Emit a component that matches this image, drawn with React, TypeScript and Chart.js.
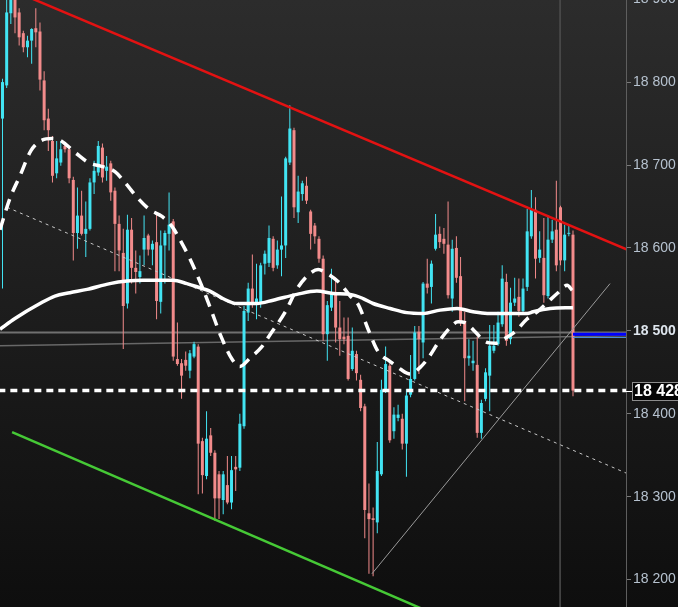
import { useEffect, useRef } from 'react';
import { Chart, registerables } from 'chart.js';

Chart.register(...registerables);

// candles, one per session
const opens = [
  18756, 18796, 18883, 18902, 18884, 18859, 18842, 18850, 18865, 18861,
  18802, 18756, 18729, 18690, 18703, 18723, 18719, 18682, 18618, 18639,
  18617, 18623, 18679, 18691, 18721, 18693, 18702, 18669, 18629, 18594,
  18533, 18622, 18576, 18565, 18598, 18615, 18598, 18607, 18535, 18603,
  18617, 18632, 18466, 18461, 18465, 18452, 18469, 18481, 18367, 18325,
  18374, 18353, 18327, 18296, 18314, 18293, 18336, 18335, 18385, 18522,
  18551, 18533, 18534, 18581, 18582, 18611, 18579, 18598, 18603, 18703,
  18742, 18643, 18665, 18675, 18644, 18627, 18611, 18587, 18496, 18528,
  18547, 18504, 18493, 18494, 18454, 18472, 18441, 18409, 18280, 18274,
  18269, 18327, 18428, 18458, 18379, 18395, 18394, 18364, 18423, 18442,
  18499, 18486, 18557, 18553, 18599, 18617, 18611, 18604, 18539, 18600,
  18566, 18512, 18467, 18461, 18459, 18377, 18418, 18446, 18476, 18484,
  18508, 18559, 18490, 18534, 18541, 18524, 18553, 18614, 18646, 18588,
  18588, 18542, 18610, 18622, 18649, 18585, 18617, 18616,
];
const highs = [
  18804, 18910, 18912, 18910, 18889, 18862, 18856, 18865, 18889, 18872,
  18813, 18768, 18735, 18729, 18729, 18727, 18723, 18686, 18673, 18669,
  18656, 18684, 18705, 18729, 18726, 18711, 18705, 18673, 18639, 18623,
  18640, 18636, 18597, 18591, 18639, 18617, 18609, 18643, 18621, 18621,
  18667, 18635, 18510, 18466, 18475, 18477, 18487, 18484, 18371, 18403,
  18383, 18356, 18331, 18331, 18349, 18349, 18349, 18400, 18530, 18558,
  18592, 18581, 18582, 18597, 18627, 18614, 18609, 18662, 18710, 18772,
  18745, 18687, 18681, 18686, 18646, 18630, 18614, 18591, 18536, 18575,
  18564, 18536, 18516, 18516, 18504, 18476, 18447, 18412, 18316, 18287,
  18366, 18441, 18481, 18461, 18408, 18411, 18400, 18430, 18471, 18506,
  18506, 18559, 18587, 18585, 18641, 18626, 18624, 18656, 18610, 18614,
  18589, 18523, 18490, 18488, 18493, 18417, 18455, 18507, 18507, 18523,
  18579, 18569, 18552, 18564, 18563, 18563, 18647, 18670, 18661, 18620,
  18636, 18639, 18634, 18681, 18651, 18628, 18629, 18621,
];
const lows = [
  18551, 18793, 18870, 18859, 18844, 18836, 18830, 18822, 18842, 18790,
  18742, 18717, 18679, 18684, 18699, 18715, 18678, 18585, 18599, 18615,
  18589, 18621, 18665, 18687, 18679, 18681, 18657, 18572, 18572, 18478,
  18527, 18557, 18545, 18557, 18579, 18591, 18579, 18514, 18521, 18557,
  18597, 18464, 18458, 18418, 18452, 18443, 18467, 18303, 18304, 18321,
  18349, 18271, 18273, 18279, 18291, 18285, 18307, 18331, 18382, 18512,
  18528, 18514, 18528, 18568, 18577, 18572, 18575, 18566, 18588, 18700,
  18636, 18630, 18657, 18653, 18598, 18605, 18582, 18488, 18464, 18524,
  18486, 18470, 18484, 18440, 18452, 18440, 18403, 18250, 18207, 18204,
  18256, 18325, 18425, 18365, 18370, 18391, 18357, 18324, 18420, 18440,
  18448, 18467, 18545, 18533, 18597, 18600, 18593, 18539, 18523, 18558,
  18506, 18415, 18458, 18452, 18371, 18370, 18415, 18403, 18473, 18482,
  18505, 18482, 18484, 18530, 18517, 18522, 18548, 18611, 18563, 18582,
  18534, 18539, 18606, 18572, 18579, 18572, 18614, 18421,
];
const closes = [
  18800, 18884, 18902, 18878, 18854, 18842, 18850, 18864, 18860, 18803,
  18754, 18742, 18687, 18708, 18719, 18719, 18684, 18618, 18639, 18617,
  18623, 18679, 18693, 18723, 18685, 18698, 18667, 18629, 18597, 18530,
  18622, 18576, 18571, 18572, 18612, 18598, 18605, 18536, 18603, 18618,
  18628, 18469, 18460, 18446, 18458, 18473, 18484, 18364, 18326, 18370,
  18353, 18298, 18298, 18327, 18293, 18332, 18333, 18388, 18524, 18551,
  18533, 18539, 18579, 18593, 18612, 18576, 18598, 18603, 18708, 18744,
  18649, 18668, 18678, 18657, 18617, 18614, 18587, 18496, 18531, 18545,
  18504, 18490, 18490, 18442, 18476, 18449, 18407, 18284, 18273, 18272,
  18331, 18429, 18460, 18368, 18399, 18399, 18364, 18422, 18442, 18498,
  18490, 18557, 18552, 18581, 18616, 18607, 18605, 18543, 18599, 18564,
  18512, 18467, 18470, 18464, 18377, 18413, 18450, 18482, 18482, 18510,
  18563, 18488, 18534, 18539, 18524, 18551, 18620, 18646, 18587, 18598,
  18543, 18610, 18620, 18579, 18585, 18616, 18618, 18428,
];

const yTicks = [18200, 18300, 18400, 18500, 18600, 18700, 18800, 18900];
const lastPrice = 18428;

// indicator curves, [candle index, price]
const slowMa = [
  [-0.6, 18502], [3, 18515], [9, 18533], [12.6, 18542], [16.2, 18546], [20.3, 18550],
  [25.8, 18557], [29.9, 18560], [33.7, 18561], [37.8, 18561], [40.9, 18561], [44.3, 18557],
  [47.4, 18552], [49.8, 18548], [52.9, 18539], [56.3, 18533], [61.1, 18533], [65, 18537],
  [70.7, 18544], [75.5, 18548], [79.4, 18545], [83.5, 18544], [86.6, 18539], [89, 18533],
  [93.1, 18527], [97.1, 18522], [101, 18521], [105.1, 18525], [109.2, 18527], [113, 18523],
  [116.4, 18521], [120.2, 18521], [126, 18521], [127.4, 18523], [131.5, 18527], [137, 18528],
];
const fastMa = [
  [-0.6, 18622], [1.8, 18660], [4.2, 18687], [6.8, 18717], [9.5, 18730], [11.9, 18732],
  [13.8, 18730], [17.7, 18714], [21, 18702], [23.4, 18699], [27, 18692], [29.4, 18679],
  [32.5, 18660], [35.4, 18646], [38.3, 18638], [40.7, 18626], [42.6, 18610], [45, 18587],
  [47.7, 18556], [50.1, 18525], [52.5, 18493], [55.1, 18466], [57, 18457], [59.4, 18467],
  [62.3, 18481], [64.2, 18495], [67.8, 18522], [70.9, 18552], [73.8, 18569], [75.8, 18574],
  [77.7, 18570], [81.1, 18557], [83.5, 18542], [85.4, 18532], [87.8, 18502], [90.2, 18475],
  [93.1, 18463], [95.5, 18454], [97.9, 18448], [100.3, 18456], [102.2, 18467], [104.8, 18487],
  [107.5, 18504], [109.4, 18511], [111.1, 18510], [113.5, 18499], [115.9, 18487], [118.3, 18485],
  [120.7, 18491], [123.1, 18499], [125.9, 18514], [128.4, 18523], [130.8, 18534], [133.4, 18546],
  [135.6, 18555], [136.8, 18549],
];

// drawn lines
const resistance = [[6, 18903], [150, 18598]];
const support = [[2.3, 18378], [103, 18160]];
const midChannel = [[1.1, 18649], [150, 18328]];
const riseLine = [[88.7, 18207], [145.9, 18557]];
const levelA = [[-1, 18498], [150, 18498]];
const levelB = [[-1, 18482], [150, 18494]];
const blueLevel = [[137, 18496], [150, 18496]];
const blueLevelThin = [[137, 18492], [150, 18492]];
const lastLine = [[-1, lastPrice], [150, lastPrice]];
const cursorLine = [[133.9, 18100], [133.9, 19000]];

const UP = '#42e4f3';
const DOWN = '#f28b8b';
const FONT = "'Liberation Sans', Arial, sans-serif";

const fmt = (v: number) => String(v).replace(/(\d{2})(\d{3})$/, '$1 $2');
const pts = (arr: number[][]) => arr.map(([x, y]) => ({ x, y }));

const line = (data: number[][], color: string, width: number, order: number, extra: any = {}) => ({
  type: 'line' as const,
  data: pts(data),
  borderColor: color,
  borderWidth: width,
  pointRadius: 0,
  fill: false,
  order,
  ...extra,
});

const lastPriceTag = {
  id: 'lastPriceTag',
  afterDraw(chart: any) {
    const { ctx, chartArea } = chart;
    const y = Math.round(chart.scales.y.getPixelForValue(lastPrice));
    const left = chartArea.right;
    ctx.save();
    ctx.strokeStyle = '#ffffff';
    ctx.lineWidth = 1;
    ctx.beginPath();
    ctx.moveTo(left, y + 0.5);
    ctx.lineTo(left + 6, y + 0.5);
    ctx.stroke();
    ctx.fillStyle = '#050505';
    ctx.fillRect(left + 6, y - 9, 70, 19);
    ctx.strokeStyle = '#8c8c8c';
    ctx.strokeRect(left + 6.5, y - 8.5, 70, 18);
    ctx.fillStyle = '#ffffff';
    ctx.font = `bold 16px ${FONT}`;
    ctx.textBaseline = 'middle';
    ctx.fillText(fmt(lastPrice), left + 8, y + 1);
    ctx.restore();
  },
};

export default function App() {
  const canvasRef = useRef<HTMLCanvasElement>(null);
  const chartRef = useRef<Chart | null>(null);

  useEffect(() => {
    if (!canvasRef.current) return;
    if (chartRef.current) chartRef.current.destroy();

    const colors = closes.map((c, i) => (c >= opens[i] ? UP : DOWN));

    chartRef.current = new Chart(canvasRef.current, {
      type: 'bar',
      data: {
        datasets: [
          line(lastLine, '#ffffff', 3.5, 1, { borderDash: [7, 5] }),
          line(slowMa, '#ffffff', 3.5, 2, { cubicInterpolationMode: 'monotone' }),
          line(fastMa, '#ffffff', 3.5, 3, { cubicInterpolationMode: 'monotone', borderDash: [12, 8] }),
          line(resistance, '#e31212', 2.5, 4),
          line(support, '#46c936', 2.5, 5),
          line(midChannel, '#c8c8c8', 1, 6, { borderDash: [3, 4] }),
          line(riseLine, '#9a9a9a', 1, 7),
          line(blueLevel, '#0000ff', 3, 8),
          line(blueLevelThin, '#4a8fd8', 1, 8),
          {
            type: 'bar' as const,
            data: opens.map((o, i) => ({ x: i, y: [o, closes[i]] })),
            backgroundColor: colors,
            borderWidth: 0,
            grouped: false,
            maxBarThickness: 3,
            minBarLength: 1,
            order: 10,
          },
          {
            type: 'bar' as const,
            data: lows.map((l, i) => ({ x: i, y: [l, highs[i]] })),
            backgroundColor: colors,
            borderWidth: 0,
            grouped: false,
            maxBarThickness: 1,
            order: 11,
          },
          line(levelA, '#707070', 2, 12),
          line(levelB, '#686868', 1.5, 12),
          line(cursorLine, '#4e4e4e', 1.5, 13),
        ] as any,
      },
      options: {
        animation: false,
        responsive: false,
        maintainAspectRatio: false,
        layout: { padding: 0 },
        plugins: {
          legend: { display: false },
          tooltip: { enabled: false },
        },
        scales: {
          x: {
            type: 'linear',
            min: -0.6,
            max: 149.73,
            offset: false,
            display: false,
          },
          y: {
            type: 'linear',
            position: 'right',
            min: 18167,
            max: 18899,
            beginAtZero: false,
            afterBuildTicks: (scale: any) => {
              scale.ticks = yTicks.map((value) => ({ value }));
            },
            afterFit: (scale: any) => {
              scale.width = 52;
              scale.paddingTop = 0;
              scale.paddingBottom = 0;
            },
            grid: {
              drawOnChartArea: false,
              drawTicks: true,
              tickLength: 5,
              color: '#7a7a7a',
            },
            border: { display: true, color: '#5e5e5e', width: 1 },
            ticks: {
              padding: 2,
              autoSkip: false,
              callback: (v: any) => fmt(Number(v)),
              color: (ctx: any) => (ctx.tick && ctx.tick.value === 18500 ? '#dfe6ee' : '#b6c2cf'),
              font: (ctx: any) => ({
                family: FONT,
                size: 14,
                weight: ctx.tick && ctx.tick.value === 18500 ? 'bold' : 'normal',
              }),
            },
          },
        },
      } as any,
      plugins: [lastPriceTag],
    });

    return () => {
      if (chartRef.current) {
        chartRef.current.destroy();
        chartRef.current = null;
      }
    };
  }, []);

  return (
    <div
      style={{
        position: 'fixed',
        left: 0,
        top: 0,
        width: 678,
        height: 607,
        background: 'linear-gradient(#2c2c2c, #0e0e0e)',
      }}
    >
      <canvas ref={canvasRef} width={678} height={607} style={{ display: 'block' }} />
    </div>
  );
}
